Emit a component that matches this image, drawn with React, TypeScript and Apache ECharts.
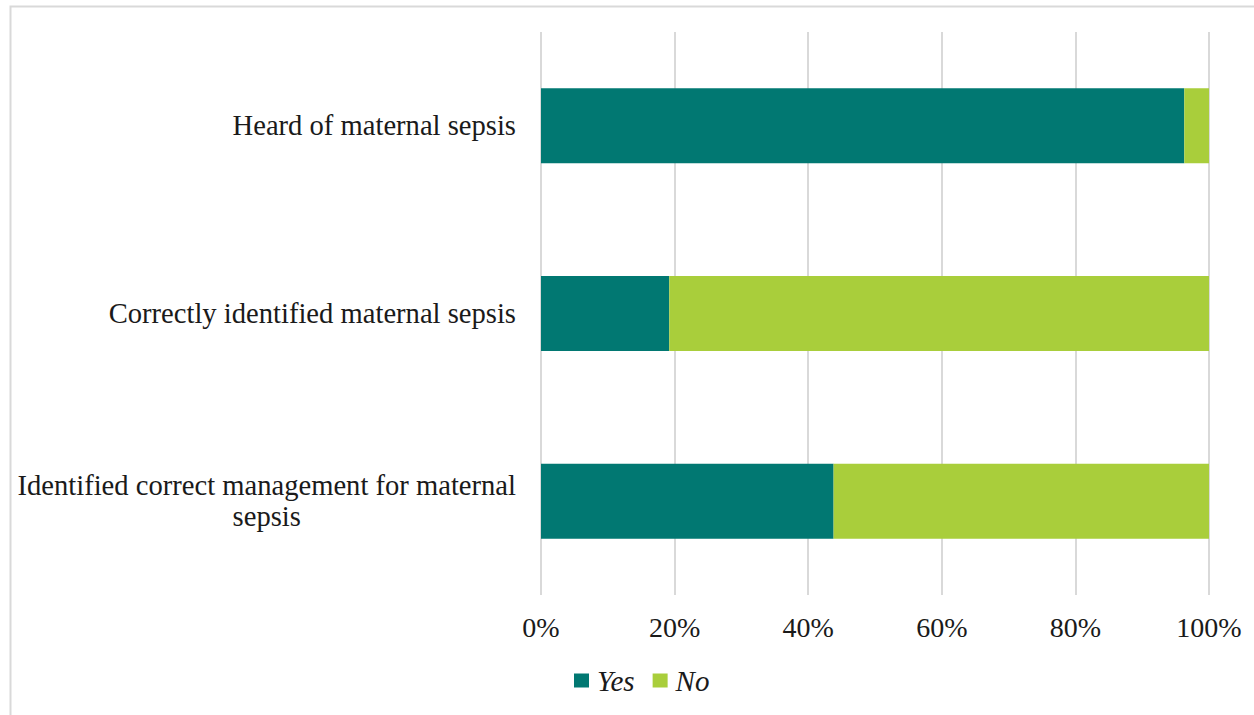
import React, { useEffect, useRef } from "react";
import * as echarts from "echarts";

const categories = [
  "Heard of maternal sepsis",
  "Correctly identified maternal sepsis",
  "Identified correct management for maternal sepsis",
];
const yesValues = [96.3, 19.2, 43.8];
const noValues = [3.7, 80.8, 56.2];
const seriesNames = ["Yes", "No"];
const tickValues = [0, 20, 40, 60, 80, 100];

const FONT = "'Liberation Serif', 'Times New Roman', serif";
const TEXT_COLOR = "#1a1a1a";
const YES_COLOR = "#017872";
const NO_COLOR = "#a9ce3b";

function wrapLabel(s: string): string {
  const maxChars = 42;
  if (s.length <= maxChars) return s;
  const cut = s.lastIndexOf(" ", maxChars);
  const a = s.slice(0, cut);
  const b = s.slice(cut + 1);
  return `{c|${a}}\n{c|${b}}`;
}

export default function App() {
  const ref = useRef<HTMLDivElement>(null);
  useEffect(() => {
    if (!ref.current) return;
    const chart = echarts.init(ref.current, undefined, { renderer: "svg" });
    chart.setOption({
      animation: false,
      backgroundColor: "#ffffff",
      textStyle: { fontFamily: FONT },
      graphic: [
        {
          type: "rect",
          z: -10,
          silent: true,
          shape: { x: 10.5, y: 6.5, width: 1400, height: 900 },
          style: { fill: "none", stroke: "#d9d9d9", lineWidth: 2 },
        },
      ],
      grid: { left: 541, right: 45, top: 32, bottom: 120, containLabel: false },
      legend: {
        data: seriesNames,
        left: 574,
        top: 666,
        padding: 0,
        itemWidth: 15,
        itemHeight: 14,
        itemGap: 18,
        icon: "rect",
        textStyle: {
          fontFamily: FONT,
          fontSize: 29,
          fontStyle: "italic",
          color: TEXT_COLOR,
          padding: [0, 0, 0, 3],
        },
      },
      xAxis: {
        type: "value",
        min: 0,
        max: 100,
        interval: 20,
        axisLine: { show: false },
        axisTick: { show: false },
        splitLine: { show: true, lineStyle: { color: "#d9d9d9", width: 2 } },
        axisLabel: {
          margin: 18,
          fontFamily: FONT,
          fontSize: 28,
          color: TEXT_COLOR,
          formatter: (v: number) => (tickValues.includes(v) ? `${v}%` : ""),
        },
      },
      yAxis: {
        type: "category",
        inverse: true,
        data: categories,
        axisLine: { show: false },
        axisTick: { show: false },
        splitLine: { show: false },
        axisLabel: {
          margin: 25,
          fontFamily: FONT,
          fontSize: 28.6,
          color: TEXT_COLOR,
          lineHeight: 31,
          formatter: (v: string) => wrapLabel(v),
          rich: {
            c: {
              align: "center",
              fontFamily: FONT,
              fontSize: 28.6,
              lineHeight: 31,
              color: TEXT_COLOR,
            },
          },
        },
      },
      series: [
        {
          name: seriesNames[0],
          type: "bar",
          stack: "total",
          barWidth: 75,
          data: yesValues,
          itemStyle: { color: YES_COLOR },
        },
        {
          name: seriesNames[1],
          type: "bar",
          stack: "total",
          barWidth: 75,
          data: noValues,
          itemStyle: { color: NO_COLOR },
        },
      ],
    });
    return () => chart.dispose();
  }, []);
  return (
    <div
      ref={ref}
      style={{ position: "fixed", left: 0, top: 0, width: 1254, height: 715 }}
    />
  );
}
